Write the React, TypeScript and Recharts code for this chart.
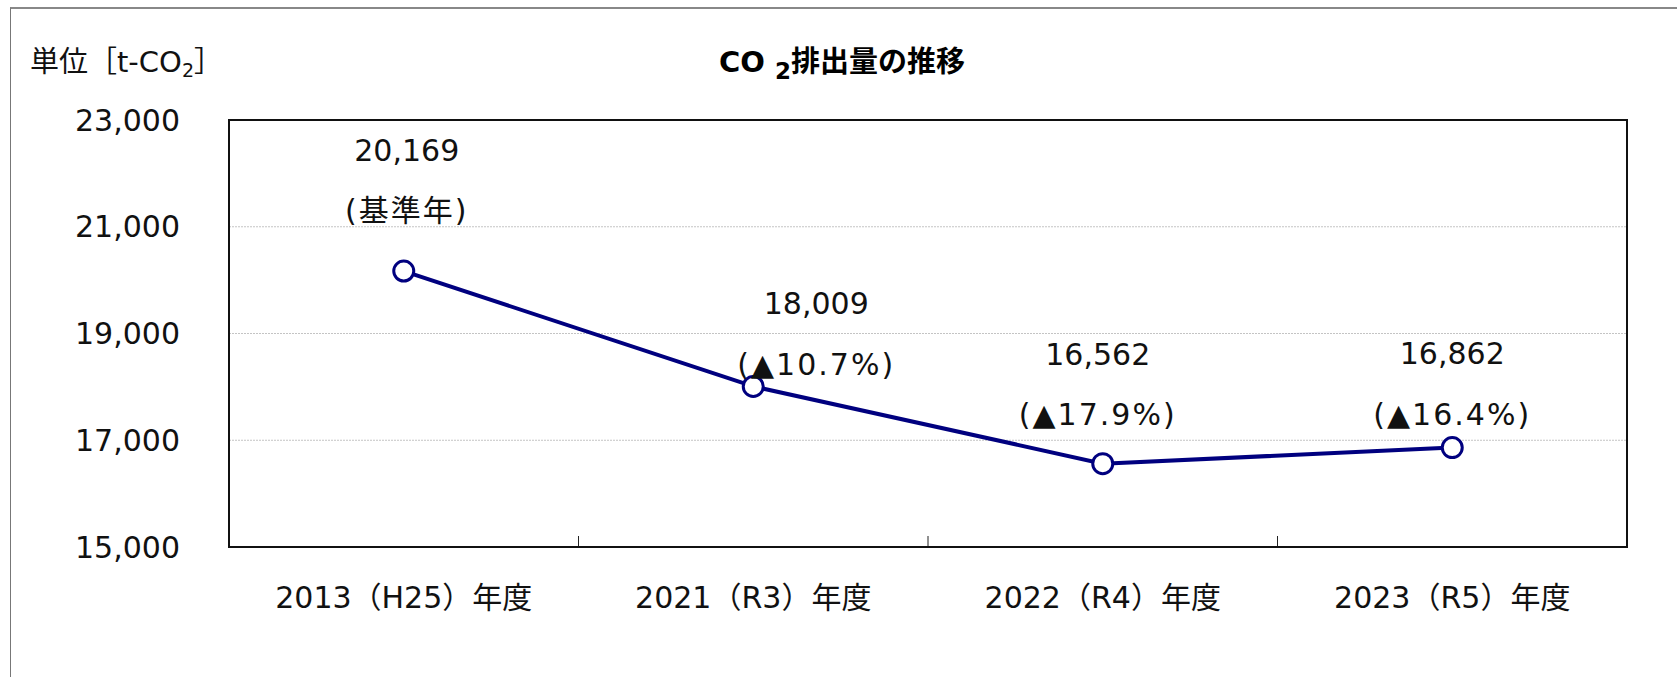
import React from 'react';
import {
  LineChart,
  Line,
  XAxis,
  YAxis,
  CartesianGrid,
  LabelList,
} from 'recharts';

// 年度ラベル
const YEARS = ['2013（H25）年度', '2021（R3）年度', '2022（R4）年度', '2023（R5）年度'];
// CO2排出量 [t-CO2]
const EMISSIONS = [20169, 18009, 16562, 16862];
// 基準年比
const NOTES = ['(基準年)', '(▲10.7%)', '(▲17.9%)', '(▲16.4%)'];
const Y_TICKS = [15000, 17000, 19000, 21000, 23000];

// 手置きされたラベルの位置（マーカーからのずれ）
const LABEL_OFFSETS = [
  { dx: 3, dy1: -121, dy2: -61 },
  { dx: 63, dy1: -83, dy2: -22 },
  { dx: -5, dy1: -109, dy2: -49 },
  { dx: 0, dy1: -94, dy2: -33 },
];

const FONT = "'DejaVu Sans', 'Noto Sans CJK JP', sans-serif";
const LINE_COLOR = '#00007f';
// プロット領域
const PLOT = { left: 229, top: 120, width: 1398, height: 427 };
const HALF_BAND = PLOT.width / YEARS.length / 2;
const FRAME = { stroke: '#111', strokeWidth: 2 };

const data = YEARS.map((year, i) => ({ year, value: EMISSIONS[i], note: NOTES[i] }));

const fmt = (v: number) => v.toLocaleString('en-US');

function PointLabel(props: any) {
  const { x, y, index, value } = props;
  const off = LABEL_OFFSETS[index] ?? { dx: 0, dy1: -90, dy2: -30 };
  return (
    <g>
      <text x={x + off.dx} y={y + off.dy1} textAnchor="middle" dominantBaseline="central"
        fontSize={30} fontFamily={FONT} fill="#111">
        {fmt(value)}
      </text>
      <text x={x + off.dx} y={y + off.dy2} textAnchor="middle" dominantBaseline="central"
        fontSize={30} fontFamily={FONT} fill="#111" letterSpacing={2}>
        {NOTES[index]}
      </text>
    </g>
  );
}

function YearTick(props: any) {
  const { x, y, payload, index } = props;
  const axisY = y - 50;
  const bx = x + HALF_BAND;
  return (
    <g>
      <text x={x} y={y} textAnchor="middle" dominantBaseline="central"
        fontSize={30} fontFamily={FONT} fill="#111">
        {payload.value}
      </text>
      {index < YEARS.length - 1 && (
        <line x1={bx} x2={bx} y1={axisY} y2={axisY - 11} stroke="#222" strokeWidth={1} />
      )}
    </g>
  );
}

export default function App() {
  return (
    <div style={{ position: 'absolute', left: 0, top: 0, width: 1677, height: 677, background: '#fff', overflow: 'hidden' }}>
      <div style={{ position: 'absolute', left: 10, top: 7, width: 1700, height: 700, borderLeft: '1.5px solid #777', borderTop: '2px solid #888' }} />
      <div style={{ position: 'absolute', left: 30, top: 44, fontFamily: FONT, fontSize: 29, color: '#111', whiteSpace: 'nowrap', lineHeight: '36px' }}>
        単位［t-CO<sub style={{ fontSize: 19, verticalAlign: -5 }}>2</sub>］
      </div>
      <div style={{ position: 'absolute', left: 719, top: 44, fontFamily: FONT, fontSize: 29, fontWeight: 700, color: '#000', whiteSpace: 'nowrap', lineHeight: '36px' }}>
        CO <sub style={{ fontSize: 23, verticalAlign: -7 }}>2</sub>排出量の推移
      </div>
      <LineChart width={1677} height={677} data={data}
        margin={{ top: PLOT.top, right: 1677 - PLOT.left - PLOT.width, bottom: 0, left: 0 }}>
        <CartesianGrid vertical={false} stroke="#c4c4c4" strokeDasharray="2 1" />
        <XAxis dataKey="year" height={677 - PLOT.top - PLOT.height} axisLine={FRAME}
          padding={{ left: HALF_BAND, right: HALF_BAND }}
          tickLine={false} tickSize={0} tickMargin={50} tick={<YearTick />} interval={0} />
        <YAxis domain={[15000, 23000]} ticks={Y_TICKS} width={PLOT.left} tickFormatter={fmt}
          axisLine={FRAME} tickLine={false} tickSize={0} tickMargin={49}
          tick={{ fontSize: 30, fontFamily: FONT, fill: '#111' }} />
        <Line type="linear" dataKey="value" stroke={LINE_COLOR} strokeWidth={4}
          dot={{ r: 10, stroke: LINE_COLOR, strokeWidth: 3, fill: '#fff' }} activeDot={false}
          isAnimationActive={false}>
          <LabelList dataKey="value" content={<PointLabel />} />
        </Line>
      </LineChart>
      {/* プロット領域の枠 */}
      <div style={{
        position: 'absolute', left: PLOT.left - 1, top: PLOT.top - 1, width: PLOT.width + 2, height: PLOT.height + 2,
        border: '2px solid #111', boxSizing: 'border-box', pointerEvents: 'none',
      }} />
    </div>
  );
}
